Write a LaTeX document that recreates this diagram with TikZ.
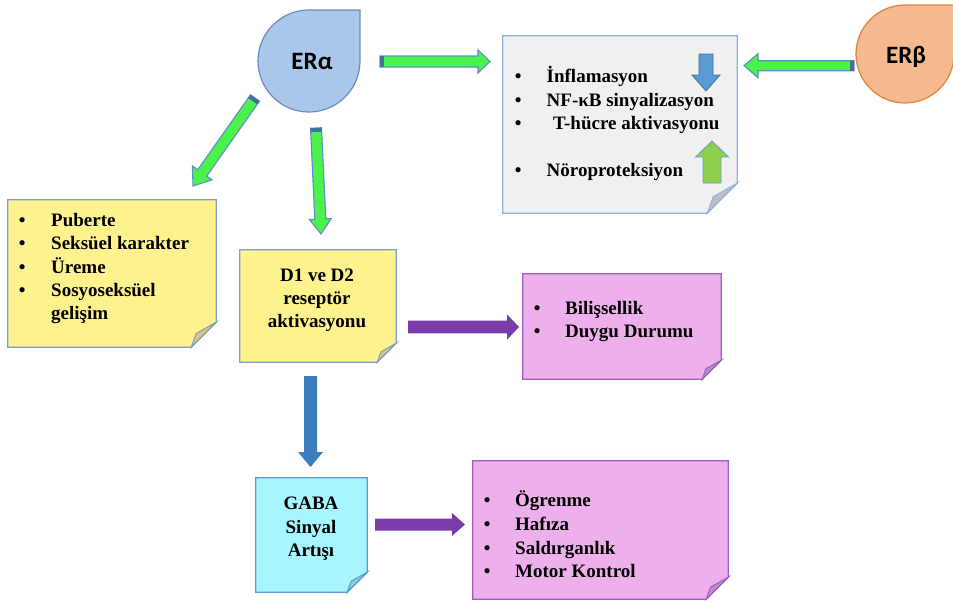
\documentclass[tikz,border=0pt]{standalone}
\usepackage{fontspec}
\setmainfont{Liberation Serif}
\newfontfamily\calfont{Carlito}
\usetikzlibrary{calc,fit}
\definecolor{eraF}{RGB}{169,199,233}
\definecolor{eraD}{RGB}{108,142,191}
\definecolor{erbF}{RGB}{244,185,142}
\definecolor{erbD}{RGB}{224,130,60}
\definecolor{greyF}{RGB}{240,240,240}
\definecolor{greyD}{RGB}{142,180,227}
\definecolor{greyFold}{RGB}{190,190,190}
\definecolor{yelF}{RGB}{253,242,142}
\definecolor{yelD}{RGB}{127,159,204}
\definecolor{yelFold}{RGB}{210,200,120}
\definecolor{pinkF}{RGB}{238,176,236}
\definecolor{pinkD}{RGB}{156,96,192}
\definecolor{pinkFold}{RGB}{192,140,200}
\definecolor{cyanF}{RGB}{166,246,255}
\definecolor{cyanD}{RGB}{91,155,213}
\definecolor{cyanFold}{RGB}{140,208,212}
\definecolor{grnF}{RGB}{76,242,76}
\definecolor{grnD}{RGB}{91,143,199}
\definecolor{capC}{RGB}{65,113,156}
\definecolor{purp}{RGB}{122,60,168}
\definecolor{bluA}{RGB}{58,126,192}
\definecolor{bluS}{RGB}{91,155,213}
\definecolor{bluSD}{RGB}{65,113,156}
\definecolor{grnS}{RGB}{142,208,78}
\definecolor{grnSD}{RGB}{106,159,213}

% folded-corner note box
\newcommand\notebox[7]{%
  \node[fit={(#2)(#3)}, inner sep=0pt] (#1) {};
  \path[fill=#5, draw=#6, line width=1.2pt] (#1.north west) -- (#1.north east)
    -- ([yshift=#4pt]#1.south east) -- ([xshift=-#4pt]#1.south east) -- (#1.south west) -- cycle;
  \path[fill=#7, draw=#6, line width=1pt] ([yshift=#4pt]#1.south east)
    -- ([xshift={-0.8*#4pt}, yshift={0.55*#4pt}]#1.south east)
    -- ([xshift=-#4pt]#1.south east) -- cycle;}

% block arrow: style, from, to, half shaft, half head, head length
\newcommand\blockarrow[6]{%
  \coordinate (ba-h) at ($(#3)!#6pt!(#2)$);
  \path[#1] ($(#2)!#4pt!90:(#3)$) -- ($(ba-h)!#4pt!90:(#3)$) -- ($(ba-h)!#5pt!90:(#3)$)
    -- (#3) -- ($(ba-h)!#5pt!-90:(#3)$) -- ($(ba-h)!#4pt!-90:(#3)$)
    -- ($(#2)!#4pt!-90:(#3)$) -- cycle;}

% dark cap at the tail of a green arrow: from, to, half shaft
\newcommand\tailcap[3]{%
  \coordinate (ba-t) at ($(#1)!4pt!(#2)$);
  \fill[capC] ($(#1)!#3pt!90:(#2)$) -- ($(ba-t)!#3pt!90:(#2)$)
    -- ($(ba-t)!#3pt!-90:(#2)$) -- ($(#1)!#3pt!-90:(#2)$) -- cycle;}

% bullet line: name, bullet x,y (baseline), gap, text
\newcommand\bl[4]{\node[txt] (#1) at (#2) {\makebox[0pt][c]{•}\hspace{#3pt}#4};}

\begin{document}
\begin{tikzpicture}[x=1pt,y=-1pt,
  txt/.style={inner sep=0pt, anchor=base west, font={\fontsize{19}{23}\selectfont\bfseries}},
  ctxt/.style={inner sep=0pt, anchor=base, font={\fontsize{19}{23}\selectfont\bfseries}},
  ertxt/.style={inner sep=0pt, font={\calfont\bfseries\fontsize{25}{29}\selectfont}},
  garrow/.style={fill=grnF, draw=grnD, line width=1.1pt},
  parrow/.style={fill=purp},
  barrow/.style={fill=bluA},
  sbarrow/.style={fill=bluS, draw=bluSD, line width=0.8pt},
  sgarrow/.style={fill=grnS, draw=grnSD, line width=0.8pt}]
\useasboundingbox (0,0) rectangle (953,603);

% teardrops
\path[fill=eraF, draw=eraD, line width=1.2pt] (360,10) -- (360,61)
  arc[start angle=0, end angle=270, radius=51] -- cycle;
\node[ertxt] (era) at (312,61.5) {ERα};
\path[fill=erbF, draw=erbD, line width=1.2pt] (954,5) -- (954,54)
  arc[start angle=0, end angle=270, radius=49] -- cycle;
\node[ertxt] (erb) at (906,56.5) {ERβ};

% note boxes
\notebox{grey}{503,36}{737,213}{30}{greyF}{greyD}{greyFold}
\notebox{yel}{8,200}{216,347}{25}{yelF}{yelD}{yelFold}
\notebox{dd}{240,250}{396,362}{19}{yelF}{yelD}{yelFold}
\notebox{pk1}{523,274}{721,379}{19}{pinkF}{pinkD}{pinkFold}
\notebox{gaba}{256,478}{367,592}{20}{cyanF}{cyanD}{cyanFold}
\notebox{pk2}{473,461}{728,599}{22}{pinkF}{pinkD}{pinkFold}

% arrow end points
\coordinate (g1s) at (380,61.5);  \coordinate (g1e) at (490,61.5);
\coordinate (g2s) at (854,65.7);  \coordinate (g2e) at (744,65.7);
\coordinate (g3s) at (255,98);    \coordinate (g3e) at (193,186);
\coordinate (g4s) at (316,128);   \coordinate (g4e) at (321,234);
\coordinate (p1s) at (408,327);   \coordinate (p1e) at (519,327);
\coordinate (p2s) at (375,524.5); \coordinate (p2e) at (465,524.5);
\coordinate (b1s) at (310.5,376); \coordinate (b1e) at (310.5,467);
\coordinate (s1s) at (706,54);    \coordinate (s1e) at (706,91);
\coordinate (s2s) at (712,183);   \coordinate (s2e) at (712,141);

% green arrows
\blockarrow{garrow}{g1s}{g1e}{5.5}{11.5}{12}\tailcap{g1s}{g1e}{5.5}
\blockarrow{garrow}{g2s}{g2e}{5}{12}{14}\tailcap{g2s}{g2e}{5}
\blockarrow{garrow}{g3s}{g3e}{5.5}{12}{16}\tailcap{g3s}{g3e}{5.5}
\blockarrow{garrow}{g4s}{g4e}{5.5}{11}{15}\tailcap{g4s}{g4e}{5.5}
% purple and blue arrows
\blockarrow{parrow}{p1s}{p1e}{6.3}{12.7}{12}
\blockarrow{parrow}{p2s}{p2e}{6}{11.5}{13}
\blockarrow{barrow}{b1s}{b1e}{6.5}{12.5}{15}
% small arrows in the grey box
\blockarrow{sbarrow}{s1s}{s1e}{7}{14}{16}
\blockarrow{sgarrow}{s2s}{s2e}{9}{16.5}{16}

% texts
\bl{t1}{518,82}{28.5}{İnflamasyon}
\bl{t2}{518,106}{28.5}{NF-κB sinyalizasyon}
\bl{t3}{518,129.5}{35}{T-hücre aktivasyonu}
\bl{t4}{518,176}{28.5}{Nöroproteksiyon}

\bl{y1}{22,226}{29}{Puberte}
\bl{y2}{22,249.5}{29}{Seksüel karakter}
\bl{y3}{22,273}{29}{Üreme}
\bl{y4}{22,296}{29}{Sosyoseksüel}
\node[txt] (y5) at (51,319.5) {gelişim};

\node[ctxt] (d1) at (317,281) {D1 ve D2};
\node[ctxt] (d2) at (317,304) {reseptör};
\node[ctxt] (d3) at (317,327.5) {aktivasyonu};

\bl{k1}{537,314}{28}{Bilişsellik}
\bl{k2}{537,337.5}{28}{Duygu Durumu}

\node[ctxt] (ga1) at (311,509.5) {GABA};
\node[ctxt] (ga2) at (311,533) {Sinyal};
\node[ctxt] (ga3) at (311,556.5) {Artışı};

\bl{m1}{487,506.5}{28}{Ögrenme}
\bl{m2}{487,530}{28}{Hafıza}
\bl{m3}{487,554}{28}{Saldırganlık}
\bl{m4}{487,577.5}{28}{Motor Kontrol}
\end{tikzpicture}
\end{document}
